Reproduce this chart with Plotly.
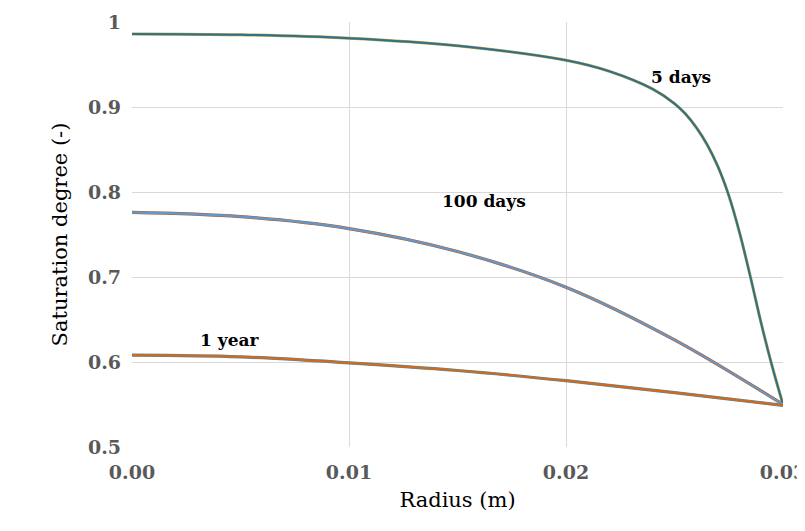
import plotly.graph_objects as go

r5 = [0, 0.005, 0.01, 0.015, 0.02, 0.022, 0.024, 0.025, 0.0255, 0.026, 0.0265, 0.027, 0.0275, 0.028, 0.0285, 0.029, 0.0295, 0.03]
s5 = [0.986, 0.985, 0.981, 0.972, 0.955, 0.942, 0.921, 0.904, 0.892, 0.876, 0.856, 0.830, 0.796, 0.752, 0.700, 0.645, 0.595, 0.55]
r100 = [0, 0.005, 0.01, 0.015, 0.02, 0.025, 0.03]
s100 = [0.776, 0.771, 0.757, 0.730, 0.688, 0.626, 0.55]
r1y = [0, 0.005, 0.01, 0.015, 0.02, 0.025, 0.03]
s1y = [0.608, 0.606, 0.599, 0.590, 0.578, 0.564, 0.549]

fig = go.Figure()
sm = 1.0
fig.add_trace(go.Scatter(x=r5, y=s5, mode="lines", line=dict(color="#b5a642", width=3, shape="spline", smoothing=sm)))
fig.add_trace(go.Scatter(x=r5, y=s5, mode="lines", line=dict(color="#2f6f8f", width=2, shape="spline", smoothing=sm)))
fig.add_trace(go.Scatter(x=r100, y=s100, mode="lines", line=dict(color="#c55a11", width=3.2, shape="spline", smoothing=sm)))
fig.add_trace(go.Scatter(x=r100, y=s100, mode="lines", line=dict(color="#5b9bd5", width=2.2, shape="spline", smoothing=sm)))
fig.add_trace(go.Scatter(x=r1y, y=s1y, mode="lines", line=dict(color="#4a8fa0", width=3.2, shape="spline", smoothing=sm)))
fig.add_trace(go.Scatter(x=r1y, y=s1y, mode="lines", line=dict(color="#d2691e", width=2.2, shape="spline", smoothing=sm)))

bold = dict(family="DejaVu Serif", size=17, color="black")
for x, y, t in [(0.0253, 0.935, "5 days"), (0.0162, 0.79, "100 days"), (0.0045, 0.626, "1 year")]:
    fig.add_annotation(x=x, y=y, text="<b>"+t+"</b>", showarrow=False, font=bold)

tf = dict(family="DejaVu Serif", size=19, color="#595959", weight="bold")
fig.update_layout(
    width=805, height=531, showlegend=False, plot_bgcolor="white", paper_bgcolor="white",
    margin=dict(l=124, r=30, t=14, b=92, autoexpand=False),
    xaxis=dict(range=[0, 0.03], tickvals=[0, 0.01, 0.02, 0.03], ticktext=["0.00", "0.01", "0.02", "0.03"],
               showgrid=True, gridcolor="#d9d9d9", zeroline=False, showline=False, automargin=False,
               tickfont=tf, ticklabelstandoff=12, ticklabeloverflow="allow",
               title=dict(text="Radius (m)", font=dict(family="DejaVu Serif", size=21, color="black"), standoff=10)),
    yaxis=dict(range=[0.5, 1.0], tickvals=[0.5, 0.6, 0.7, 0.8, 0.9, 1.0], ticktext=["0.5", "0.6", "0.7", "0.8", "0.9", "1"],
               showgrid=True, gridcolor="#d9d9d9", zeroline=False, showline=False, automargin=False,
               tickfont=tf, ticklabelstandoff=10, ticklabeloverflow="allow",
               title=dict(text="Saturation degree (-)", font=dict(family="DejaVu Serif", size=21, color="black"), standoff=14)),
)
fig.write_html("out.html", config={"responsive": False})
